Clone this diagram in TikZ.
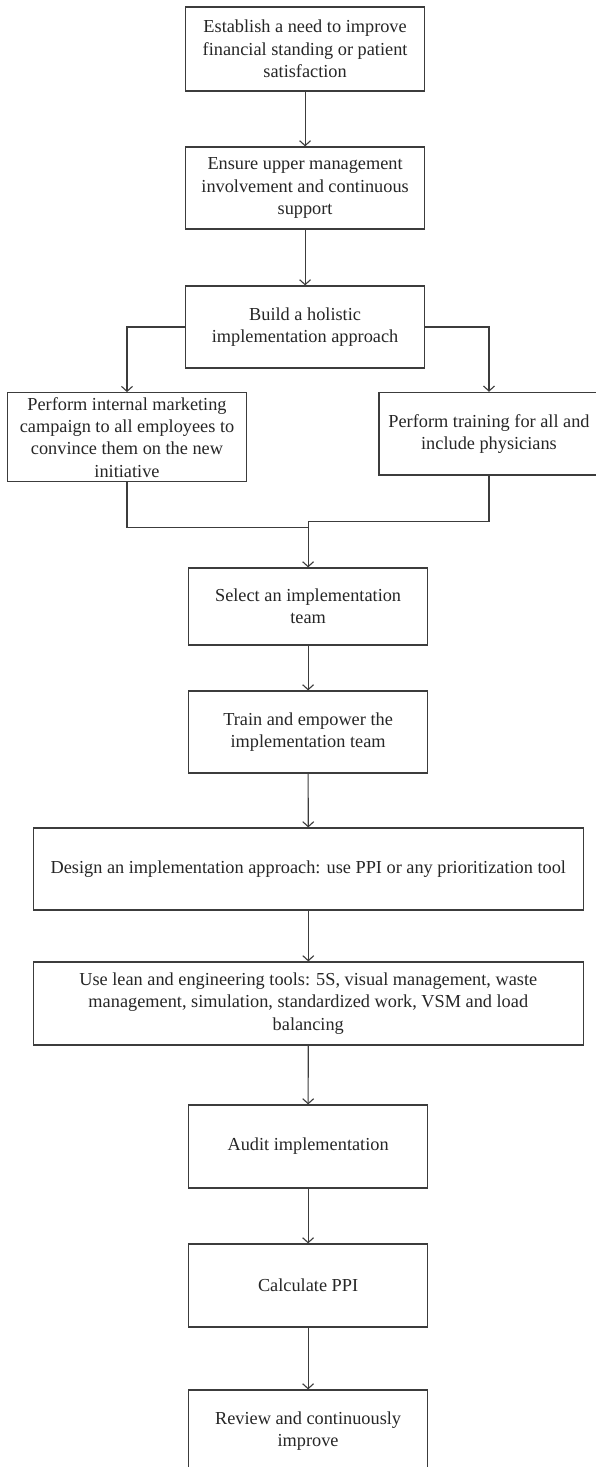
\documentclass[tikz,border=0pt]{standalone}
\usepackage{fontspec}
\setmainfont{Liberation Serif}
\usetikzlibrary{arrows.meta}
\definecolor{linec}{HTML}{3C3C3C}
\definecolor{textc}{HTML}{262626}
\begin{document}
\begin{tikzpicture}[x=1pt,y=-1pt,
  box/.style={draw=linec, line width=1.2pt, fill=white, align=center, inner sep=0pt,
    text=textc, font=\fontsize{18.3}{22.3}\selectfont, minimum width=239pt, minimum height=83pt},
  conn/.style={draw=linec, line width=1.1pt},
  arr/.style={conn, -{Straight Barb[length=5pt,width=11pt]}}]
\useasboundingbox[fill=white] (0,0) rectangle (595,1467);
\node[box, minimum height=84pt] (b1) at (305.1,49) {Establish a need to improve\\financial standing or patient\\satisfaction};
\node[box, minimum height=82pt] (b2) at (305.1,188) {Ensure upper management\\involvement and continuous\\support};
\node[box, minimum height=82pt] (b3) at (305.1,327) {Build a holistic\\implementation approach};
\node[box, minimum width=239.4pt, minimum height=89pt] (left) at (127,437.2) {Perform internal marketing\\campaign to all employees to\\convince them on the new\\initiative};
\node[box, minimum width=220pt, minimum height=82.7pt] (right) at (489,433.7) {Perform training for all and\\include physicians};
\node[box, minimum height=77pt] (select) at (308.1,606.5) {Select an implementation\\team};
\node[box, minimum height=82pt] (train) at (308.1,732) {Train and empower the\\implementation team};
\node[box, minimum width=550pt, minimum height=82pt] (design) at (308.3,869) {Design an implementation approach: use PPI or any prioritization tool};
\node[box, minimum width=550pt, minimum height=83pt] (lean) at (308.3,1003.5) {Use lean and engineering tools: 5S, visual management, waste\\management, simulation, standardized work, VSM and load\\balancing};
\node[box] (audit) at (308.1,1146.5) {Audit implementation};
\node[box] (calc) at (308.1,1285.5) {Calculate PPI};
\node[box, minimum height=82pt] (review) at (308.1,1431) {Review and continuously\\improve};
\coordinate (j1) at (308.1,527.7);
\coordinate (j2) at (308.1,521.7);
\draw[arr] (b1) -- (b2);
\draw[arr] (b2) -- (b3);
\draw[arr] (b3.west) -| (left.north);
\draw[arr] (b3.east) -| (right.north);
\draw[conn] (left.south) |- (j1);
\draw[arr] (right.south) |- (j2) -- (select.north);
\draw[arr] (select) -- (train);
\draw[arr] (train) -- (design);
\draw[arr] (design) -- (lean);
\draw[arr] (lean) -- (audit);
\draw[arr] (audit) -- (calc);
\draw[arr] (calc) -- (review);
\end{tikzpicture}
\end{document}
